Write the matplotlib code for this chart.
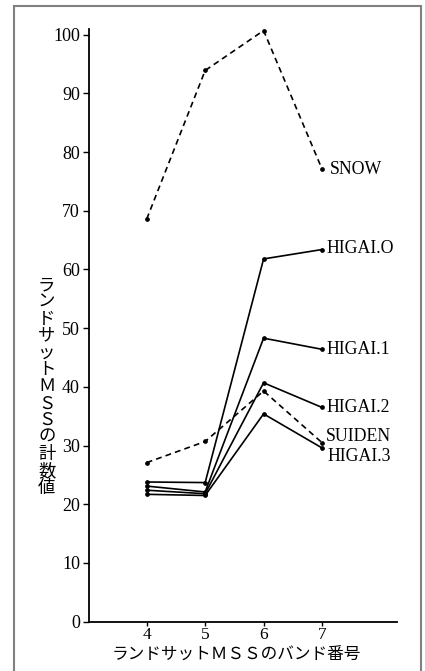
import matplotlib.pyplot as plt
from matplotlib.patches import Rectangle

# band numbers and counts
bands = [4, 5, 6, 7]
snow = [68.6, 93.9, 100.7, 77.1]
higai0 = [23.8, 23.7, 61.8, 63.4]
higai1 = [23.1, 22.1, 48.3, 46.4]
higai2 = [22.4, 21.8, 40.7, 36.5]
suiden = [27.1, 30.7, 39.3, 30.5]
higai3 = [21.7, 21.5, 35.4, 29.6]

names = ['SNOW', 'HIGAI.O', 'HIGAI.1', 'HIGAI.2', 'SUIDEN', 'HIGAI.3']
series = [snow, higai0, higai1, higai2, suiden, higai3]
dashed = [True, False, False, False, True, False]
# label placement (x offset, y shift from last value)
lab_dx = [0.13, 0.08, 0.08, 0.07, 0.07, 0.10]
lab_dy = [0.0, 0.1, 0.0, 0.0, 1.0, -1.4]

yticks = [0, 10, 20, 30, 40, 50, 60, 70, 80, 90, 100]

serif = 'Liberation Serif'
jp = ['Noto Sans CJK JP', 'DejaVu Sans']

fig = plt.figure(figsize=(4.25, 6.71), dpi=100)
ax = fig.add_axes([89/425, 49.3/671, 307.7/425, 592.9/671])

for vals, name, d, dx, dy in zip(series, names, dashed, lab_dx, lab_dy):
    ls = (0, (3.5, 2.5)) if d else '-'
    ax.plot(bands, vals, color='black', ls=ls, lw=1.2, marker='o', ms=2.4)
    ax.text(bands[-1] + dx, vals[-1] + dy, name, fontsize=12.8, family=serif,
            va='center', ha='left')

ax.set_xlim(3.012, 8.278)
ax.set_ylim(0, 101)
ax.set_xticks(bands)
ax.set_yticks(yticks)
for s in ['top', 'right']:
    ax.spines[s].set_visible(False)
for s in ['left', 'bottom']:
    ax.spines[s].set_linewidth(1.3)
ax.tick_params(axis='y', direction='out', length=4, width=1, pad=2.5)
ax.tick_params(axis='x', direction='out', length=3, width=1, pad=1)
for t in ax.get_yticklabels():
    t.set_family(serif)
    t.set_fontsize(13)
for t in ax.get_xticklabels():
    t.set_family(serif)
    t.set_fontsize(12.5)

# x label
fig.text(236/425, 1 - 655/671, 'ランドサットＭＳＳのバンド番号', family=jp,
         fontsize=12, ha='center', va='center')

# vertical y label, one character per row
ylab = 'ランドサットＭＳＳの計数値'
pitch = 16.9
for i, ch in enumerate(ylab):
    fig.text(46.7/425, 1 - (285 + i*pitch)/671, ch, family=jp,
             fontsize=12.5, ha='center', va='center')

# outer frame of the printed figure
fig.add_artist(Rectangle((14/425, -0.05), 407/425, 1.05 - 6/671,
                         transform=fig.transFigure, fill=False,
                         edgecolor='#808080', lw=1.5, clip_on=False))

plt.savefig('out.png', dpi=100)
